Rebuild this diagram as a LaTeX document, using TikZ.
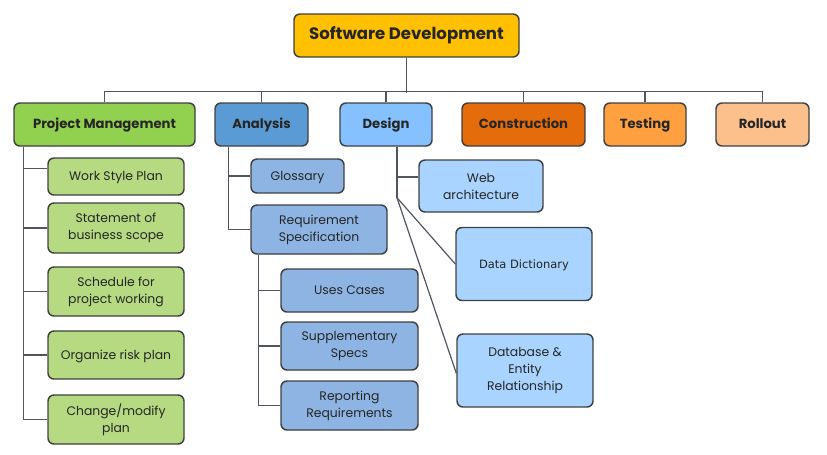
\documentclass[tikz,border=0pt]{standalone}
\usepackage{fontspec}
\setmainfont{Poppins}
\newfontfamily\ddfont{DejaVu Sans}
\definecolor{cSD}{HTML}{FFC000}
\definecolor{cPM}{HTML}{92D050}
\definecolor{cAN}{HTML}{5B9BD5}
\definecolor{cDS}{HTML}{85C1FF}
\definecolor{cCO}{HTML}{E46C0A}
\definecolor{cTE}{HTML}{FFA040}
\definecolor{cRO}{HTML}{FBC08C}
\definecolor{cPMc}{HTML}{B5DA82}
\definecolor{cANc}{HTML}{8DB4E2}
\definecolor{cDSc}{HTML}{A8D4FF}
\definecolor{bord}{HTML}{404040}
\definecolor{link}{HTML}{505560}
\begin{document}
\begin{tikzpicture}[x=0.75pt,y=-0.75pt,
  sz/.style 2 args={minimum width=#1*0.75pt, minimum height=#2*0.75pt},
  box/.style={draw=bord, line width=1.1pt, rounded corners=4.5pt, inner sep=0pt, align=center, text=black!85},
  one/.style={text height=0.75em, text depth=0.1em},
  top/.style={box, one, font=\fontsize{9.9}{11}\selectfont\bfseries},
  kid/.style={box, font=\fontsize{9.3}{12.75}\selectfont},
  conn/.style={draw=link, line width=0.9pt}]
\useasboundingbox (0,0) rectangle (827,454);
% top
\node[top, fill=cSD, sz={225}{43}, font=\fontsize{12.4}{13}\selectfont\bfseries] (sd) at (406.5,35.5) {Software Development};
\node[top, fill=cPM, sz={181}{43}] (pm) at (104.5,124.5) {Project Management};
\node[top, fill=cAN, sz={93}{43}] (an) at (261.5,124.5) {Analysis};
\node[top, fill=cDS, sz={92}{43}] (ds) at (386,124.5) {Design};
\node[top, fill=cCO, sz={123}{43}] (co) at (523.5,124.5) {Construction};
\node[top, fill=cTE, sz={82}{43}] (te) at (645,124.5) {Testing};
\node[top, fill=cRO, sz={93}{43}] (ro) at (762.5,124.5) {Rollout};
% project management children
\node[kid, one, fill=cPMc, sz={136}{37}] (c1) at (116,176.5) {Work Style Plan};
\node[kid, fill=cPMc, sz={136}{50}] (c2) at (116,228) {Statement of\\business scope};
\node[kid, fill=cPMc, sz={136}{49}] (c3) at (116,291.5) {Schedule for\\project working};
\node[kid, one, fill=cPMc, sz={136}{48}] (c4) at (116,355) {Organize risk plan};
\node[kid, fill=cPMc, sz={136}{49}] (c5) at (116,419.5) {Change/modify\\plan};
% analysis children
\node[kid, one, fill=cANc, sz={93}{34}] (gl) at (297.5,176) {Glossary};
\node[kid, fill=cANc, sz={136}{49}] (rq) at (319,229.5) {Requirement\\Specification};
\node[kid, one, fill=cANc, sz={137}{43}] (uc) at (349.5,290.5) {Uses Cases};
\node[kid, fill=cANc, sz={137}{48}] (ss) at (349.5,346) {Supplementary\\Specs};
\node[kid, fill=cANc, sz={137}{49}] (rr) at (349.5,405.5) {Reporting\\Requirements};
% design children
\node[kid, fill=cDSc, sz={124}{52}] (wa) at (481,186) {Web\\architecture};
\node[kid, one, fill=cDSc, sz={136}{73}, font=\ddfont\fontsize{8.6}{11}\selectfont] (dd) at (524,264) {Data Dictionary};
\node[kid, fill=cDSc, sz={136}{73}] (db) at (525,370.5) {Database \&\\Entity\\Relationship};
% top connectors
\draw[conn] (sd.south) -- ++(0,35) coordinate (bus);
\draw[conn] (pm.north) -- ++(0,-11) -| (ro.north);
\foreach \n in {an,ds,co,te}{\draw[conn] (\n.north) -- ++(0,-11);}
% project management spine
\coordinate (pms) at ([xshift=7.5pt]pm.south west);
\draw[conn] (pms) |- (c5.west);
\draw[conn] ([yshift=6pt]c1.west) -- ([yshift=6pt]c1.west -| pms);
\foreach \n in {c2,c3,c4}{\draw[conn] (\n.west) -- (\n.west -| pms);}
% analysis spine
\coordinate (ans) at ([xshift=10.5pt]an.south west);
\draw[conn] (ans) |- (rq.west);
\draw[conn] (gl.west) -- (gl.west -| ans);
\coordinate (rqs) at ([xshift=6pt]rq.south west);
\draw[conn] (rqs) |- (rr.west);
\foreach \n in {uc,ss}{\draw[conn] (\n.west) -- (\n.west -| rqs);}
% design spine
\coordinate (dss) at ([xshift=8.25pt]ds.south);
\coordinate (dsk) at ([xshift=8.25pt,yshift=-38.25pt]ds.south);
\draw[conn] (dss) -- (dsk);
\draw[conn] ([yshift=6.75pt]wa.west) -- ([yshift=6.75pt]wa.west -| dss);
\draw[conn] (dsk) -- (dd.west);
\draw[conn] (dsk) -- ([yshift=-2pt]db.west);
\end{tikzpicture}
\end{document}
